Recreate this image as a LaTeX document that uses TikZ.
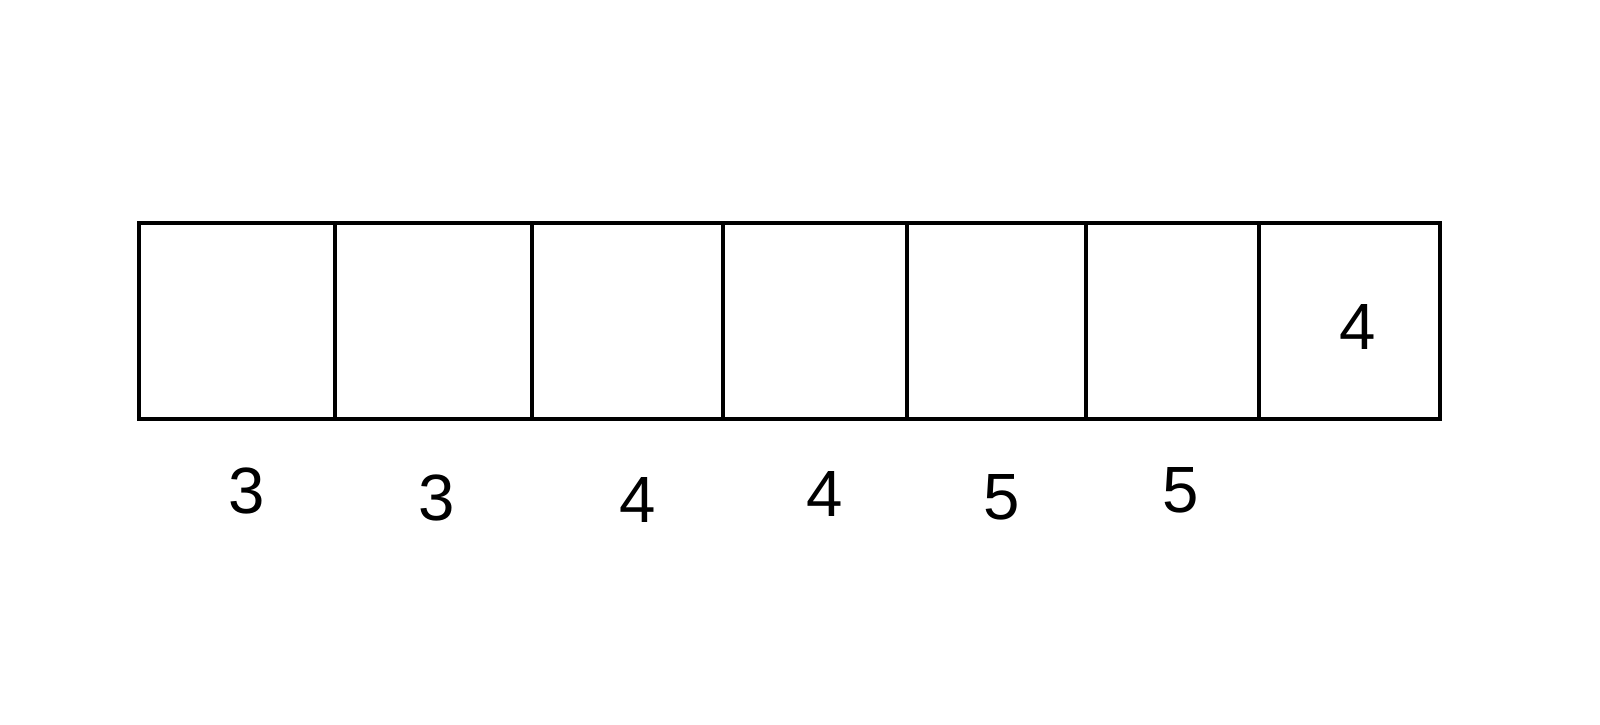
\documentclass[tikz,border=0pt]{standalone}
\usepackage{fontspec}
\setmainfont{Liberation Sans}
\begin{document}
\begin{tikzpicture}[x=0.01cm,y=-0.01cm,
  cell/.style={draw=black,line width=1.13pt},
  lbl/.style={font=\fontsize{18.6}{22}\selectfont,inner sep=0pt}]
\useasboundingbox[fill=white] (0,0) rectangle (1600,724);
\draw[cell] (139,223) rectangle (335,419);
\draw[cell] (335,223) rectangle (532,419);
\draw[cell] (532,223) rectangle (723,419);
\draw[cell] (723,223) rectangle (907,419);
\draw[cell] (907,223) rectangle (1086,419);
\draw[cell] (1086,223) rectangle (1259,419);
\draw[cell] (1259,223) rectangle (1440,419);
\node[lbl] (l1) at (247,491) {3};
\node[lbl] (l2) at (437,498) {3};
\node[lbl] (l3) at (638,500) {4};
\node[lbl] (l4) at (825,494) {4};
\node[lbl] (l5) at (1002,497) {5};
\node[lbl] (l6) at (1181,490) {5};
\node[lbl] (l7) at (1358,327) {4};
\end{tikzpicture}
\end{document}
